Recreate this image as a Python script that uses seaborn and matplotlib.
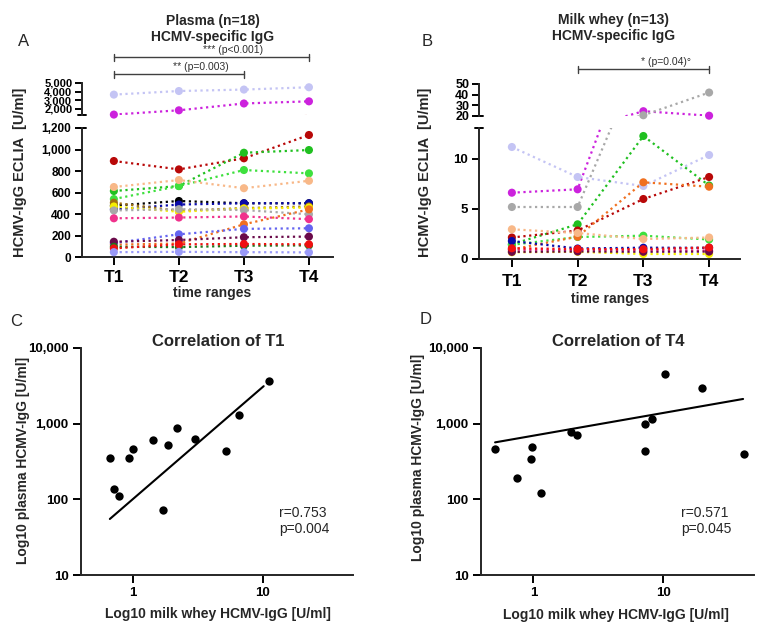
import numpy as np
import pandas as pd
import matplotlib
matplotlib.use("Agg")
import matplotlib.pyplot as plt
import matplotlib.transforms as mtransforms
import seaborn as sns

# ---------------- data ----------------
time_labels = ["T1", "T2", "T3", "T4"]

plasma_ids = ["lavender", "magenta", "darkred", "green1", "green2", "peach", "black",
              "navy", "brown", "yellow", "gray", "pink", "orange", "blue", "maroon",
              "darkgreen", "red", "lightblue"]
plasma_T1 = [3640, 1300, 893, 614, 539, 651, 478, 443, 505, 470, 433, 360, 115, 130, 142, 95, 80, 45]
plasma_T2 = [4060, 1800, 815, 660, 660, 716, 521, 488, 430, 421, 445, 367, 125, 211, 158, 92, 118, 48]
plasma_T3 = [4230, 2600, 918, 970, 809, 640, 500, 500, 455, 450, 437, 377, 304, 262, 184, 105, 121, 45]
plasma_T4 = [4500, 2850, 1135, 995, 778, 709, 500, 500, 470, 460, 397, 352, 443, 267, 190, 108, 118, 43]

whey_ids = ["lavender", "magenta", "gray", "green1", "green2", "darkred", "orange",
            "peach", "navy", "yellow", "pink", "maroon", "red"]
whey_T1 = [11.2, 6.63, 5.2, 1.47, 1.42, 2.15, 0.95, 2.97, 1.8, 0.67, 0.93, 0.71, 1.07]
whey_T2 = [8.2, 6.97, 5.2, 3.47, 2.2, 2.85, 2.23, 2.6, 1.05, 0.72, 0.9, 0.75, 1.0]
whey_T3 = [7.3, 24.5, 20.7, 12.3, 2.33, 6.0, 7.67, 2.0, 1.13, 0.5, 0.88, 0.72, 0.98]
whey_T4 = [10.4, 20.3, 42.0, 7.35, 1.95, 8.2, 7.23, 2.15, 1.12, 0.5, 0.85, 0.74, 1.15]

corr_T1_whey = [0.66, 0.71, 0.77, 0.93, 1.0, 1.42, 1.85, 1.71, 2.19, 3.0, 5.23, 6.63, 11.3]
corr_T1_plasma = [353, 137, 110, 353, 464, 604, 530, 72, 868, 635, 433, 1313, 3640]
fit_T1_whey = [0.66, 10.2]
fit_T1_plasma = [55, 3130]

corr_T4_whey = [0.507, 0.744, 0.954, 0.977, 1.146, 1.95, 2.18, 7.23, 7.3, 8.18, 10.4, 19.9, 41.8]
corr_T4_plasma = [462, 191, 345, 486, 121, 783, 708, 440, 1000, 1141, 4580, 2960, 397]
fit_T4_whey = [0.507, 41.2]
fit_T4_plasma = [566, 2120]

subject_colors = {
    "lavender": "#c4c4f4", "magenta": "#cc22dd", "darkred": "#b80808", "green1": "#20c020",
    "green2": "#3ee03e", "peach": "#f8b888", "black": "#000000", "navy": "#0a0aa8",
    "brown": "#a07010", "yellow": "#f6ee00", "gray": "#a8a8a8", "pink": "#f0328c",
    "orange": "#f07020", "blue": "#6464f0", "maroon": "#6a0a4a", "darkgreen": "#1a7a1a",
    "red": "#f01010", "lightblue": "#9a9af8",
}

# ---------------- style ----------------
sns.set_style("ticks")
plt.rcParams["font.family"] = ["Liberation Sans", "DejaVu Sans"]
plt.rcParams["font.weight"] = "bold"
plt.rcParams["axes.linewidth"] = 1.4

W, H = 766, 638
fig = plt.figure(figsize=(W / 100, H / 100), dpi=100)


def fax(left, top, right, bottom):
    return fig.add_axes([left / W, 1 - bottom / H, (right - left) / W, (bottom - top) / H])


axA_up = fax(82, 83, 333, 115)
axA_lo = fax(82, 128, 333, 257)
axB_up = fax(479, 84, 740, 116)
axB_lo = fax(479, 128, 740, 259)
axC = fax(81, 348, 353, 575)
axD = fax(481, 348, 754, 575)


def long_df(ids, cols):
    rows = []
    for t, col in enumerate(cols):
        for i, v in zip(ids, col):
            rows.append({"id": i, "x": t, "v": v})
    return pd.DataFrame(rows)


dfA = long_df(plasma_ids, [plasma_T1, plasma_T2, plasma_T3, plasma_T4])
dfB = long_df(whey_ids, [whey_T1, whey_T2, whey_T3, whey_T4])


def draw_series(ax, df, lo, hi):
    pal = {k: subject_colors[k] for k in df["id"].unique()}
    sns.lineplot(data=df, x="x", y="v", hue="id", palette=pal, ax=ax, legend=False,
                 linestyle=(0, (1, 1.6)), linewidth=1.6, errorbar=None, sort=False)
    sub = df[(df["v"] >= lo) & (df["v"] <= hi)]
    sns.scatterplot(data=sub, x="x", y="v", hue="id", palette=pal, ax=ax, legend=False,
                    s=34, linewidth=0, clip_on=False, zorder=3)
    ax.set_xlabel("")
    ax.set_ylabel("")


def fmt_comma(vals):
    return [f"{v:,.0f}" for v in vals]


def style_pair(ax_up, ax_lo, xlim, up_lim, up_ticks, lo_lim, lo_ticks, tsize, up_size, xpad):
    for ax in (ax_up, ax_lo):
        ax.set_xlim(*xlim)
        sns.despine(ax=ax)
        ax.tick_params(axis="both", direction="out", length=5, width=1.4, colors="black")
    ax_up.spines["bottom"].set_visible(False)
    ax_up.tick_params(axis="x", bottom=False, labelbottom=False)
    ax_up.set_ylim(*up_lim)
    ax_up.set_yticks(up_ticks)
    ax_up.set_yticklabels(fmt_comma(up_ticks), fontsize=up_size, fontweight="bold")
    ax_up.tick_params(axis="y", pad=2)
    ax_lo.set_ylim(*lo_lim)
    ax_lo.set_yticks(lo_ticks)
    ax_lo.set_yticklabels(fmt_comma(lo_ticks), fontsize=tsize, fontweight="bold")
    ax_lo.tick_params(axis="y", pad=3)
    ax_lo.set_xticks(range(4))
    ax_lo.set_xticklabels(time_labels, fontsize=12.5, fontweight="bold")
    ax_lo.tick_params(axis="x", length=6, pad=xpad)
    # break marks
    wpx = ax_lo.get_position().width * W
    d = 4 / wpx
    ax_up.plot([-d, d], [0, 0], transform=ax_up.transAxes, color="black", lw=1.4, clip_on=False)
    ax_lo.plot([-d, d], [1, 1], transform=ax_lo.transAxes, color="black", lw=1.4, clip_on=False)


# Panel A
draw_series(axA_up, dfA, 1250, 5000)
draw_series(axA_lo, dfA, 0, 1200)
style_pair(axA_up, axA_lo, (-0.49, 3.37), (1250, 5000), [2000, 3000, 4000, 5000],
           (0, 1200), [0, 200, 400, 600, 800, 1000, 1200], 8.5, 8, 3)

# Panel B
draw_series(axB_up, dfB, 19, 50)
draw_series(axB_lo, dfB, 0, 13.1)
style_pair(axB_up, axB_lo, (-0.5, 3.47), (20, 50), [20, 30, 40, 50],
           (0, 13.1), [0, 5, 10], 9.5, 9, 5)


def bracket(ax, x0, x1, yfrac, stars, ptext, h):
    trans = mtransforms.blended_transform_factory(ax.transData, ax.transAxes)
    ax.plot([x0, x1], [yfrac, yfrac], transform=trans, color="#404040", lw=1.0, clip_on=False)
    for xx in (x0, x1):
        ax.plot([xx, xx], [yfrac - h, yfrac + h], transform=trans, color="#404040", lw=1.0,
                clip_on=False)
    mid = (x0 + x1) / 2
    ax.annotate(stars + " " + ptext, xy=(mid, yfrac), xycoords=trans,
                xytext=(-len(stars) * 2.0, 1.5), textcoords="offset points",
                ha="left", va="bottom", fontsize=7.5, fontweight="normal", color="#303030")


bracket(axA_up, 0, 3, (115 - 57) / 32, "***", "(p<0.001)", 3.5 / 32)
bracket(axA_up, 0, 2, (115 - 74) / 32, "**", "(p=0.003)", 3.5 / 32)
bracket(axB_up, 1, 3, (116 - 69) / 32, "*", "(p=0.04)°", 3.5 / 32)


# Panels C & D
def corr_panel(ax, wx, py, fx, fy):
    sns.scatterplot(x=wx, y=py, ax=ax, color="black", s=36, linewidth=0, clip_on=False, zorder=3)
    sns.lineplot(x=fx, y=fy, ax=ax, color="black", linewidth=1.5, errorbar=None)
    ax.set_xscale("log")
    ax.set_yscale("log")
    ax.set_xlim(0.395, 50)
    ax.set_ylim(10, 10000)
    ax.set_xticks([1, 10])
    ax.set_xticklabels(["1", "10"], fontsize=9.5, fontweight="bold")
    ax.set_yticks([10, 100, 1000, 10000])
    ax.set_yticklabels(["10", "100", "1,000", "10,000"], fontsize=9.5, fontweight="bold")
    ax.minorticks_off()
    ax.tick_params(axis="both", direction="out", length=6, width=1.4, colors="black", pad=3)
    sns.despine(ax=ax)
    ax.set_xlabel("")
    ax.set_ylabel("")


corr_panel(axC, corr_T1_whey, corr_T1_plasma, fit_T1_whey, fit_T1_plasma)
corr_panel(axD, corr_T4_whey, corr_T4_plasma, fit_T4_whey, fit_T4_plasma)


def ftext(x, y, s, **kw):
    fig.text(x / W, 1 - y / H, s, **kw)


# titles
ftext(213, 29, "Plasma (n=18)\nHCMV-specific IgG", ha="center", va="center", fontsize=10,
      fontweight="bold", linespacing=1.15)
ftext(614, 28, "Milk whey (n=13)\nHCMV-specific IgG", ha="center", va="center", fontsize=10,
      fontweight="bold", linespacing=1.15)
ftext(218, 342, "Correlation of T1", ha="center", va="center", fontsize=12, fontweight="bold")
ftext(618, 342, "Correlation of T4", ha="center", va="center", fontsize=12, fontweight="bold")

# panel letters
for lx, ly, lt in [(24, 42, "A"), (427, 42, "B"), (16, 322, "C"), (426, 320, "D")]:
    ftext(lx, ly, lt, ha="center", va="center", fontsize=12, fontweight="normal")

# axis labels
ftext(20, 172, "HCMV-IgG ECLIA  [U/ml]", ha="center", va="center", rotation=90, fontsize=10.5,
      fontweight="bold")
ftext(425, 172, "HCMV-IgG ECLIA  [U/ml]", ha="center", va="center", rotation=90, fontsize=10.5,
      fontweight="bold")
ftext(212, 293, "time ranges", ha="center", va="center", fontsize=10, fontweight="bold")
ftext(610, 299, "time ranges", ha="center", va="center", fontsize=10, fontweight="bold")
ftext(218, 614, "Log10 milk whey HCMV-IgG [U/ml]", ha="center", va="center", fontsize=10,
      fontweight="bold")
ftext(616, 615, "Log10 milk whey HCMV-IgG [U/ml]", ha="center", va="center", fontsize=10,
      fontweight="bold")
ftext(23, 460, "Log10 plasma HCMV-IgG [U/ml]", ha="center", va="center", rotation=90,
      fontsize=10, fontweight="bold")
ftext(418, 457, "Log10 plasma HCMV-IgG [U/ml]", ha="center", va="center", rotation=90,
      fontsize=10, fontweight="bold")

# stats text
ftext(279, 521, "r=0.753\np=0.004", ha="left", va="center", fontsize=10, fontweight="normal",
      linespacing=1.2)
ftext(681, 521, "r=0.571\np=0.045", ha="left", va="center", fontsize=10, fontweight="normal",
      linespacing=1.2)

fig.savefig("out.png", dpi=100)
